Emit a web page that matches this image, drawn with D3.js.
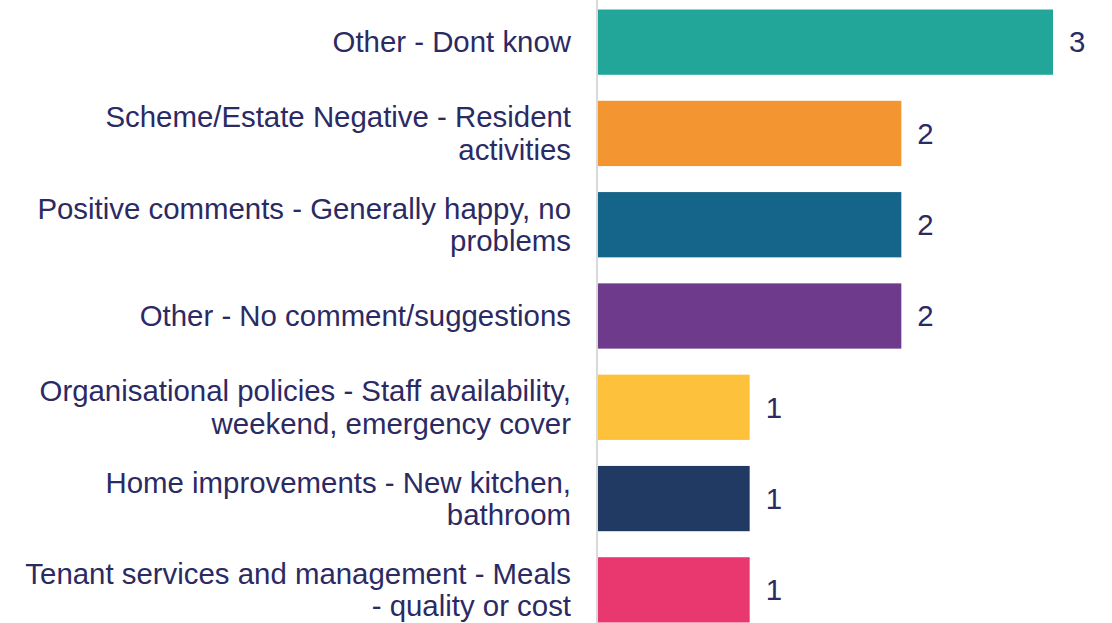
<!DOCTYPE html>
<html>
<head>
<meta charset="utf-8">
<script src="https://cdn.jsdelivr.net/npm/d3@7"></script>
<style>
  html, body { margin: 0; padding: 0; background: #fff; }
  svg { display: block; font-family: "Liberation Sans", Arial, Helvetica, sans-serif; }
</style>
</head>
<body>
<div id="chart"></div>
<script>
// data
const categories = [
  "Other - Dont know",
  "Scheme/Estate Negative - Resident|activities",
  "Positive comments - Generally happy, no|problems",
  "Other - No comment/suggestions",
  "Organisational policies - Staff availability,|weekend, emergency cover",
  "Home improvements - New kitchen,|bathroom",
  "Tenant services and management - Meals|- quality or cost"
];
const values = [3, 2, 2, 2, 1, 1, 1];
const barColors = ["#21a699", "#f39530", "#156489", "#6e3b8c", "#fdc13b", "#213a63", "#e8386f"];

const W = 1112, H = 623;
const axisX = 597;
const textColor = "#2b2a63";

const svg = d3.select("#chart").append("svg").attr("width", W).attr("height", H);

const rows = categories.map((c, i) => ({ cat: c, val: values[i], color: barColors[i] }));

const y = d3.scaleBand()
  .domain(categories)
  .range([-3.5, 635.5])
  .paddingInner(0.285)
  .paddingOuter(0.1425);

const x = d3.scaleLinear().domain([0, 3]).range([axisX + 1, 1053]);

// bars
svg.selectAll("rect.bar")
  .data(rows)
  .join("rect")
  .attr("class", "bar")
  .attr("x", x(0))
  .attr("y", d => y(d.cat))
  .attr("width", d => x(d.val) - x(0))
  .attr("height", y.bandwidth())
  .attr("fill", d => d.color);

// axis line
svg.append("g")
  .attr("transform", `translate(${axisX},0)`)
  .call(d3.axisLeft(y).tickSize(0).tickFormat(""))
  .call(g => g.select(".domain").attr("stroke", "#d9d9d9").attr("stroke-width", 2)
    .attr("d", `M0,0V${H}`));

// category labels
const fontSize = 29.4, lineH = 32.5;
svg.selectAll("text.cat")
  .data(rows)
  .join("text")
  .attr("class", "cat")
  .attr("text-anchor", "end")
  .attr("fill", textColor)
  .style("font-size", fontSize + "px")
  .each(function (d) {
    const t = d3.select(this);
    const lines = d.cat.split("|");
    const cy = y(d.cat) + y.bandwidth() / 2;
    const first = cy - (lines.length - 1) * lineH / 2 + fontSize * 0.35;
    lines.forEach((l, i) => {
      t.append("tspan").attr("x", 571).attr("y", first + i * lineH).text(l);
    });
  });

// value labels
svg.selectAll("text.val")
  .data(rows)
  .join("text")
  .attr("class", "val")
  .attr("x", d => x(d.val) + 16)
  .attr("y", d => y(d.cat) + y.bandwidth() / 2 + fontSize * 0.35)
  .attr("fill", textColor)
  .style("font-size", fontSize + "px")
  .text(d => d.val);
</script>
</body>
</html>
